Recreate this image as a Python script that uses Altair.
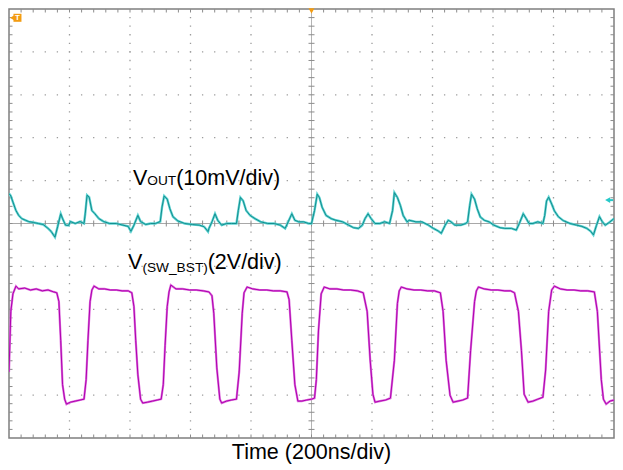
import altair as alt
import pandas as pd

# ---------------- data read from the scope screen ----------------
# time in ns from the left edge of the screen (200 ns/div, 10 div)
# VOUT: AC-coupled ripple in mV (10 mV/div), 0 on the centre line
vout_t = [0, 6, 13, 23, 32, 42, 55, 65, 81, 97,
          113, 129, 139, 152, 161, 171, 177, 187, 197, 203,
          219, 235, 248, 252, 258, 265, 274, 284, 297, 313,
          332, 355, 377, 394, 403, 413, 426, 435, 452, 468,
          484, 500, 506, 513, 523, 532, 542, 558, 581, 606,
          629, 645, 658, 661, 671, 681, 690, 703, 719, 735,
          752, 758, 765, 774, 784, 797, 813, 832, 855, 877,
          897, 913, 923, 935, 945, 958, 974, 990, 1000, 1010,
          1019, 1026, 1035, 1048, 1065, 1081, 1103, 1123, 1139, 1155,
          1168, 1177, 1187, 1197, 1210, 1226, 1242, 1258, 1268, 1274,
          1284, 1294, 1303, 1316, 1323, 1345, 1365, 1387, 1403, 1419,
          1429, 1442, 1452, 1461, 1474, 1494, 1510, 1516, 1523, 1529,
          1539, 1548, 1558, 1571, 1587, 1603, 1623, 1639, 1661, 1677,
          1687, 1700, 1710, 1719, 1732, 1748, 1765, 1771, 1777, 1784,
          1794, 1803, 1816, 1832, 1855, 1877, 1894, 1910, 1923, 1932,
          1942, 1952, 1961, 1971, 1984, 2000]
vout_mv = [6.98, 6.43, 5.0, 3.02, 1.89, 1.14, 0.75, 0.45, 0.23, 0,
           -0.23, -1.14, -1.82, -3.18, -0.68, 2.27, 1.14, -0.39, -0.45, 0.45,
           0, 0.45, 0, 2.27, 6.59, 6.14, 3.02, 2.27, 1.14, 0.45,
           0, 0, -0.39, -0.68, -1.82, -0.39, 1.89, 0.45, -0.23, 0,
           0, 0.45, 3.86, 6.43, 5.68, 3.41, 1.59, 0.61, 0, -0.23,
           -0.39, -0.75, -1.89, -1.14, 0.39, 2.27, 0.75, -0.39, 0, 0,
           0, 3.02, 6.07, 5.3, 3.02, 1.89, 1.14, 0.39, 0, 0,
           -0.39, -1.14, 0.39, 2.27, 0.75, 0.39, 0.39, 0, 0, 3.02,
           6.82, 6.07, 3.8, 1.89, 1.14, 0.75, 0.39, -0.39, -0.98, -1.14,
           -0.39, 1.14, 2.27, 1.14, 0, 0, 0.39, 0, 3.02, 7.2,
           6.07, 4.16, 1.89, 0.39, 0.75, 0.39, 0.39, -0.39, -1.14, -1.75,
           -2.27, -0.39, 0.75, 0.39, -0.39, -0.39, 0, 0.39, 4.16, 6.82,
           5.68, 3.41, 1.52, 0.75, 0.39, -0.39, -0.98, -1.14, -1.14, -1.52,
           0, 2.27, 1.14, 0, 0, 0.39, 0, 1.89, 5.23, 6.14,
           4.55, 2.95, 1.59, 0.68, 0, -0.39, -0.68, -1.14, -1.82, -2.66,
           -0.45, 1.59, 0.45, -0.39, 0.23, 1.14]

# V(SW_BST) in volts (2 V/div)
sw_t = [0, 6, 13, 23, 32, 52, 71, 90, 110, 129,
        148, 158, 165, 171, 177, 184, 190, 203, 219, 235,
        248, 255, 261, 268, 274, 281, 297, 316, 335, 355,
        374, 394, 406, 413, 419, 426, 435, 442, 458, 474,
        490, 503, 510, 516, 523, 529, 535, 552, 574, 597,
        619, 642, 661, 671, 677, 687, 697, 703, 719, 735,
        752, 761, 771, 777, 787, 806, 829, 852, 874, 897,
        919, 926, 935, 945, 955, 968, 984, 1000, 1010, 1016,
        1023, 1032, 1042, 1061, 1084, 1106, 1129, 1152, 1171, 1184,
        1194, 1203, 1210, 1226, 1245, 1261, 1274, 1284, 1290, 1297,
        1316, 1339, 1361, 1384, 1406, 1426, 1435, 1445, 1458, 1468,
        1484, 1500, 1516, 1526, 1539, 1545, 1552, 1571, 1594, 1616,
        1639, 1658, 1671, 1684, 1694, 1703, 1716, 1732, 1748, 1765,
        1774, 1784, 1794, 1803, 1823, 1845, 1868, 1890, 1913, 1935,
        1945, 1958, 1965, 1974, 1987, 2000]
sw_v = [1.36, 4.18, 5.0, 5.36, 5.23, 5.27, 5.18, 5.23, 5.14, 5.18,
        5.09, 5.05, 4.64, 2.82, 0.77, 0.09, -0.14, -0.05, 0, 0.05,
        0.09, 1.0, 2.82, 4.64, 5.18, 5.36, 5.23, 5.23, 5.18, 5.18,
        5.14, 5.14, 5.05, 4.41, 2.82, 1.23, 0.09, -0.09, -0.05, 0,
        0.05, 0.09, 0.77, 2.59, 4.41, 5.09, 5.41, 5.23, 5.23, 5.18,
        5.18, 5.14, 5.09, 4.91, 4.09, 1.55, 0.09, -0.09, 0, 0.05,
        0.09, 1.36, 4.09, 5.05, 5.32, 5.23, 5.18, 5.18, 5.14, 5.14,
        5.09, 4.73, 2.82, 0.77, 0, 0, 0.05, 0.09, 0.14, 1.0,
        3.27, 5.0, 5.32, 5.23, 5.23, 5.18, 5.18, 5.14, 5.05, 4.18,
        1.91, 0.32, -0.05, 0, 0.05, 0.14, 1.91, 4.55, 5.14, 5.32,
        5.23, 5.18, 5.18, 5.14, 5.14, 5.05, 4.18, 1.91, 0.27, -0.05,
        0, 0.05, 0.14, 2.36, 4.64, 5.14, 5.32, 5.23, 5.18, 5.18,
        5.14, 5.14, 5.05, 4.18, 2.36, 0.32, -0.05, 0, 0.09, 0.18,
        1.45, 4.18, 5.18, 5.36, 5.23, 5.18, 5.18, 5.14, 5.14, 5.09,
        4.18, 1.0, 0.09, -0.14, 0, 0.05]

assert len(vout_t) == len(vout_mv) and len(sw_t) == len(sw_v)

# scope settings
NS_PER_DIV = 200
VOUT_MV_PER_DIV = 10
SW_V_PER_DIV = 2
SW_OFFSET_DIV = -4.14   # channel 2 ground position (div from centre)

# ---------------- layout ----------------
W, H = 605, 429
FONT = "Liberation Sans"
xs = alt.Scale(domain=[0, 10], nice=False, zero=False)
ys = alt.Scale(domain=[-5, 5], nice=False, zero=False)


def X(f):
    return alt.X(f, type="quantitative", scale=xs, axis=None)


def Y(f):
    return alt.Y(f, type="quantitative", scale=ys, axis=None)


vout_df = pd.DataFrame({"x": [t / NS_PER_DIV for t in vout_t],
                        "y": [v / VOUT_MV_PER_DIV for v in vout_mv]})
sw_df = pd.DataFrame({"x": [t / NS_PER_DIV for t in sw_t],
                      "y": [v / SW_V_PER_DIV + SW_OFFSET_DIV for v in sw_v]})

# graticule
grid_x = pd.DataFrame({"x": [1, 2, 3, 4, 6, 7, 8, 9]})
grid_y = pd.DataFrame({"y": [-4, -3, -2, -1, 1, 2, 3, 4]})
px_x = W / 10.0
px_y = H / 10.0
vgrid = alt.Chart(grid_x).mark_rule(
    color="#9c9c9c", strokeWidth=1.3,
    strokeDash=[1.3, 0.2 * px_y - 1.3], strokeDashOffset=0.65
).encode(x=X("x"))
hgrid = alt.Chart(grid_y).mark_rule(
    color="#9c9c9c", strokeWidth=1.3,
    strokeDash=[1.3, 0.2 * px_x - 1.3], strokeDashOffset=0.65
).encode(y=Y("y"))
center = pd.DataFrame({"x": [5], "y": [0]})
cv = alt.Chart(center).mark_rule(color="#b4b4b4", strokeWidth=1).encode(x=X("x"))
ch = alt.Chart(center).mark_rule(color="#a8a8a8", strokeWidth=1).encode(y=Y("y"))

minor = [round(0.2 * i, 2) for i in range(1, 50)]
hx = 3.0 / px_x   # tick half-length in div
hy = 3.0 / px_y
htick_rows = []
for yv in [round(m - 5, 2) for m in minor]:
    htick_rows.append({"x": 5 - hx, "x2": 5 + hx, "y": yv})
    htick_rows.append({"x": 0, "x2": 3.5 / px_x, "y": yv})
    htick_rows.append({"x": 10 - 3.5 / px_x, "x2": 10, "y": yv})
vtick_rows = []
for xv in minor:
    vtick_rows.append({"y": -hy, "y2": hy, "x": xv})
    vtick_rows.append({"y": -5, "y2": -5 + 3.5 / px_y, "x": xv})
    vtick_rows.append({"y": 5 - 3.5 / px_y, "y2": 5, "x": xv})
htick = alt.Chart(pd.DataFrame(htick_rows)).mark_rule(color="#8c8c8c", strokeWidth=1).encode(
    x=X("x"), x2="x2", y=Y("y"))
vtick = alt.Chart(pd.DataFrame(vtick_rows)).mark_rule(color="#8c8c8c", strokeWidth=1).encode(
    y=Y("y"), y2="y2", x=X("x"))

# traces
cyan_glow = alt.Chart(vout_df).mark_line(color="#5fd3d3", strokeWidth=2.4, clip=True).encode(
    x=X("x"), y=Y("y"))
cyan = alt.Chart(vout_df).mark_line(color="#138f8f", strokeWidth=1.0, clip=True).encode(
    x=X("x"), y=Y("y"))
mag_glow = alt.Chart(sw_df).mark_line(color="#dc6ddc", strokeWidth=2.2, clip=True).encode(
    x=X("x"), y=Y("y"))
mag = alt.Chart(sw_df).mark_line(color="#b000b0", strokeWidth=1.0, clip=True).encode(
    x=X("x"), y=Y("y"))

# labels
lab_main = pd.DataFrame({"x": [2.048, 2.763, 1.968, 3.284],
                         "y": [0.909, 0.909, -1.068, -1.068],
                         "t": ["V", "(10mV/div)", "V", "(2V/div)"]})
lab_sub = pd.DataFrame({"x": [2.285, 2.205], "y": [0.909, -1.136],
                        "t": ["OUT", "(SW_BST)"]})
lab_time = pd.DataFrame({"x": [5], "y": [-5.5], "t": ["Time (200ns/div)"]})
t_main = alt.Chart(lab_main).mark_text(font=FONT, fontSize=21.5, align="left",
                                       baseline="alphabetic", color="#000000").encode(
    x=X("x"), y=Y("y"), text="t:N")
t_sub = alt.Chart(lab_sub).mark_text(font=FONT, fontSize=13.7, align="left",
                                     baseline="alphabetic", color="#000000").encode(
    x=X("x"), y=Y("y"), text="t:N")
t_time = alt.Chart(lab_time).mark_text(font=FONT, fontSize=21.5, align="center",
                                       baseline="alphabetic", color="#000000").encode(
    x=X("x"), y=Y("y"), text="t:N")

# scope markers
orange = "#f39c12"
trig_box = alt.Chart(pd.DataFrame({"x": [0.14], "y": [4.795]})).mark_point(
    shape="square", filled=True, size=64, color=orange, opacity=1).encode(x=X("x"), y=Y("y"))
trig_arrow = alt.Chart(pd.DataFrame({"x": [0.05], "y": [4.795]})).mark_point(
    shape="triangle-left", filled=True, size=22, color=orange, opacity=1).encode(x=X("x"), y=Y("y"))
trig_t = alt.Chart(pd.DataFrame({"x": [0.14], "y": [4.795], "t": ["T"]})).mark_text(
    font=FONT, fontSize=8, fontWeight="bold", color="white", baseline="middle").encode(
    x=X("x"), y=Y("y"), text="t:N")
trig_pos = alt.Chart(pd.DataFrame({"x": [5], "y": [4.955]})).mark_point(
    shape="triangle-down", filled=True, size=36, color=orange, opacity=1).encode(x=X("x"), y=Y("y"))
ch1_arrow = alt.Chart(pd.DataFrame({"x": [9.895], "y": [0.545]})).mark_point(
    shape="triangle-left", filled=True, size=34, color="#27c9c9", opacity=1).encode(x=X("x"), y=Y("y"))
ch1_tail = alt.Chart(pd.DataFrame({"x": [9.9], "x2": [9.985], "y": [0.545]})).mark_rule(
    color="#27c9c9", strokeWidth=2).encode(x=X("x"), x2="x2", y=Y("y"))

chart = alt.layer(
    vgrid, hgrid, cv, ch, htick, vtick,
    cyan_glow, cyan, mag_glow, mag,
    t_main, t_sub, t_time,
    trig_box, trig_arrow, trig_t, trig_pos, ch1_arrow, ch1_tail
).properties(width=W, height=H, padding=0, background="white").configure_view(
    stroke="#7f7f7f", strokeWidth=1.5)

chart.save("out.html", embed_options={"renderer": "svg", "actions": False})
